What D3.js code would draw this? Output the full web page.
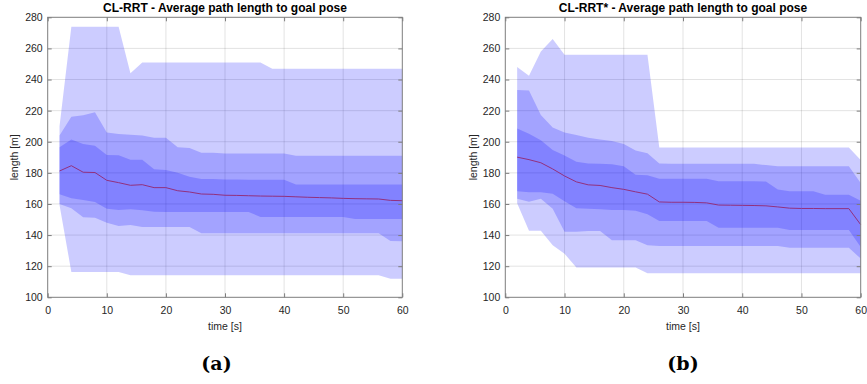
<!DOCTYPE html>
<html>
<head>
<meta charset="utf-8">
<script src="https://cdn.jsdelivr.net/npm/d3@7"></script>
<style>
  body { margin: 0; background: #fff; }
  text { font-family: "Liberation Sans", Arial, sans-serif; }
</style>
</head>
<body>
<div id="chart"></div>
<script>
const width = 867;
const height = 384;

// sample times (s)
const times = [2, 4, 6, 8, 10, 12, 14, 16, 18, 20, 22, 24, 26, 28, 30,
  32, 34, 36, 38, 40, 42, 44, 46, 48, 50, 52, 54, 56, 58, 60];
const xTicks = [0, 10, 20, 30, 40, 50, 60];
const yTicks = [100, 120, 140, 160, 180, 200, 220, 240, 260, 280];

// CL-RRT path length [m]
const rrtMax = [210, 274, 274, 274, 274, 274, 244, 251, 251, 251, 251, 251, 251, 251, 251,
  251, 251, 251, 247, 247, 247, 247, 247, 247, 247, 247, 247, 247, 247, 247];
const rrtHigh = [204, 216, 217, 219, 206, 205, 204.5, 204, 202.5, 202.5, 196.5, 196, 193, 193, 192.5,
  192.5, 192.5, 192.5, 192.5, 192.5, 191, 191, 191, 191, 191, 191, 191, 191, 191, 191];
const rrtUpper = [196.5, 201.5, 198.5, 197.5, 191.5, 191.3, 188.5, 188.5, 182.3, 181.8, 180, 177.5, 176, 176, 175.8,
  175.8, 175.6, 175.6, 175.6, 175.6, 172.5, 172.5, 172.5, 172.5, 172.5, 172.5, 172.5, 172.5, 172.5, 172.5];
const rrtMean = [181.2, 184.6, 180.4, 180.2, 175.2, 173.7, 172, 172.4, 170.5, 170.5, 168.5, 167.7, 166.4, 166.2, 165.6,
  165.5, 165.3, 165.1, 165, 164.9, 164.6, 164.3, 164.1, 163.9, 163.6, 163.4, 163.3, 163.2, 162.3, 162.1];
const rrtLower = [166.2, 163.6, 162.6, 161.3, 157, 156.1, 156.6, 155.9, 155, 154.8, 154.8, 154.8, 154.8, 154.8, 154.8,
  154.8, 154.8, 151.7, 151.7, 151.7, 151.7, 151.7, 151.7, 151.7, 151.7, 150.4, 150.4, 150.4, 150.4, 150.4];
const rrtLow = [160, 157.2, 151.4, 151.2, 148, 145.8, 146.5, 145.2, 145.2, 145.2, 145.2, 145.2, 141.1, 141.1, 141.1,
  141.1, 141.1, 141.1, 141.1, 141.1, 141.1, 141.1, 141.1, 141.1, 141.1, 141.1, 141.1, 141.1, 136.2, 136];
const rrtMin = [159.4, 116.3, 116.3, 116.3, 116.3, 116.3, 114.2, 114.2, 114.2, 114.2, 114.2, 114.2, 114.2, 114.2, 114.2,
  114.2, 114.2, 114.2, 114.2, 114.2, 114.2, 114.2, 114.2, 114.2, 114.2, 114.2, 114.2, 114.2, 112, 112];

// CL-RRT* path length [m]
const starMax = [248, 242.5, 258, 266, 256, 256, 256, 256, 256, 256, 256, 256, 196.3, 196.3, 196.3,
  196.3, 196.3, 196.3, 196.3, 196.3, 196.3, 196.3, 196.3, 196.3, 196.3, 196.3, 196.3, 196.3, 196.3, 188.3];
const starHigh = [233.2, 233, 217.2, 209.2, 206, 204.3, 202.5, 201.5, 200.4, 198.5, 194.3, 192.6, 186, 185.8, 185.8,
  185.8, 185.8, 185.8, 185.8, 185.8, 185.8, 185, 184.2, 184.2, 184.2, 184.2, 184.2, 184.2, 184.2, 173.4];
const starUpper = [208.5, 205.2, 201, 194.7, 191.1, 187.2, 186, 185.8, 185.5, 184.3, 178.8, 178.5, 176.2, 176.2, 176.2,
  176.2, 176.2, 174.6, 174.6, 174.6, 174.6, 174.4, 169.3, 168.2, 168.2, 168.1, 166, 166, 166, 162];
const starMean = [190.1, 188.5, 186.5, 182.5, 178, 174.2, 172.3, 171.9, 170.5, 169.4, 167.8, 166.3, 161.3, 161.1, 161.1,
  161, 160.7, 159.3, 159.2, 159.1, 159, 158.8, 158.1, 157.3, 157.1, 157.1, 157, 157, 157, 146.7];
const starLower = [168.2, 167.5, 167.5, 166.6, 161.8, 157.3, 157, 156.6, 156.2, 156.1, 155.7, 153.4, 149, 149, 149,
  149, 149, 144.7, 144.7, 144.7, 144.7, 144.7, 144.7, 143.3, 143.3, 143.3, 143.3, 143.3, 143.3, 132.3];
const starLow = [163.4, 161.4, 163.3, 156.9, 142.2, 142.2, 142.6, 142.6, 136.6, 136.6, 136.6, 133.5, 133, 133, 133,
  133, 133, 133, 133, 133, 133, 133, 133, 131.8, 131.8, 131.8, 131.8, 131.8, 131.8, 124.9];
const starMin = [160.5, 142.8, 142.8, 133.5, 128, 119.2, 119.2, 119.2, 119.2, 119.2, 119.2, 115.4, 115.4, 115.4, 115.4,
  115.4, 115.4, 115.4, 115.4, 115.4, 115.4, 115.4, 115.4, 115.4, 115.4, 115.4, 115.4, 115.4, 115.4, 115.4];

const panels = [
  {
    title: "CL-RRT - Average path length to goal pose",
    caption: "(a)",
    left: 47.7, right: 402.3, captionX: 216.5, ylabelX: 17.5,
    bands: [[rrtMin, rrtMax], [rrtLow, rrtHigh], [rrtLower, rrtUpper]],
    mean: rrtMean,
  },
  {
    title: "CL-RRT* - Average path length to goal pose",
    caption: "(b)",
    left: 505.3, right: 860.7, captionX: 683, ylabelX: 476.5,
    bands: [[starMin, starMax], [starLow, starHigh], [starLower, starUpper]],
    mean: starMean,
  },
];

const plotTop = 17.3;
const plotBottom = 297.3;
const frameColor = "#7d7d7d";
const textColor = "#262626";

const svg = d3
  .select("#chart")
  .append("svg")
  .attr("width", width)
  .attr("height", height);

const y = d3.scaleLinear().domain([100, 280]).range([plotBottom, plotTop]);

panels.forEach((p) => {
  const x = d3.scaleLinear().domain([0, 60]).range([p.left, p.right]);
  const g = svg.append("g");

  // grid
  g.append("g")
    .selectAll("line")
    .data(xTicks.slice(1, -1))
    .join("line")
    .attr("x1", (d) => x(d))
    .attr("x2", (d) => x(d))
    .attr("y1", plotTop)
    .attr("y2", plotBottom)
    .attr("stroke", "#262626")
    .attr("stroke-opacity", 0.13);
  g.append("g")
    .selectAll("line")
    .data(yTicks.slice(1, -1))
    .join("line")
    .attr("x1", p.left)
    .attr("x2", p.right)
    .attr("y1", (d) => y(d))
    .attr("y2", (d) => y(d))
    .attr("stroke", "#262626")
    .attr("stroke-opacity", 0.13);

  // shaded bands, each one blue at 0.2 alpha
  const area = d3
    .area()
    .x((d) => x(d.t))
    .y0((d) => y(d.lo))
    .y1((d) => y(d.hi));

  p.bands.forEach(([lo, hi]) => {
    const rows = times.map((t, i) => ({ t, lo: lo[i], hi: hi[i] }));
    g.append("path")
      .datum(rows)
      .attr("d", area)
      .attr("fill", "#0000ff")
      .attr("fill-opacity", 0.2);
  });

  // mean line
  const line = d3
    .line()
    .x((d) => x(d.t))
    .y((d) => y(d.v));
  g.append("path")
    .datum(times.map((t, i) => ({ t, v: p.mean[i] })))
    .attr("d", line)
    .attr("fill", "none")
    .attr("stroke", "#92307e")
    .attr("stroke-width", 1);

  // axes with inward ticks
  const axisStyle = (sel) => {
    sel.select(".domain").remove();
    sel.selectAll(".tick line").attr("stroke", frameColor);
    sel.selectAll(".tick text")
      .attr("fill", textColor)
      .style("font-size", "10.5px")
      .style("font-family", "'Liberation Sans', Arial, sans-serif");
  };

  g.append("g")
    .attr("transform", `translate(0,${plotBottom})`)
    .call(d3.axisBottom(x).tickValues(xTicks).tickSizeInner(-4).tickSizeOuter(0).tickPadding(9))
    .call(axisStyle);
  g.append("g")
    .attr("transform", `translate(0,${plotTop})`)
    .call(d3.axisTop(x).tickValues(xTicks).tickSizeInner(-4).tickSizeOuter(0).tickFormat(""))
    .call(axisStyle);
  g.append("g")
    .attr("transform", `translate(${p.left},0)`)
    .call(d3.axisLeft(y).tickValues(yTicks).tickSizeInner(-4).tickSizeOuter(0).tickPadding(5))
    .call(axisStyle);
  g.append("g")
    .attr("transform", `translate(${p.right},0)`)
    .call(d3.axisRight(y).tickValues(yTicks).tickSizeInner(-4).tickSizeOuter(0).tickFormat(""))
    .call(axisStyle);

  // box
  g.append("rect")
    .attr("x", p.left)
    .attr("y", plotTop)
    .attr("width", p.right - p.left)
    .attr("height", plotBottom - plotTop)
    .attr("fill", "none")
    .attr("stroke", frameColor)
    .attr("stroke-width", 1);

  const cx = (p.left + p.right) / 2;

  g.append("text")
    .attr("x", cx)
    .attr("y", 12)
    .attr("text-anchor", "middle")
    .attr("font-weight", "bold")
    .attr("font-size", "12px")
    .attr("fill", "#000")
    .text(p.title);

  g.append("text")
    .attr("x", cx)
    .attr("y", 329.5)
    .attr("text-anchor", "middle")
    .attr("font-size", "10.5px")
    .attr("fill", textColor)
    .text("time [s]");

  g.append("text")
    .attr("transform", `translate(${p.ylabelX},${(plotTop + plotBottom) / 2}) rotate(-90)`)
    .attr("text-anchor", "middle")
    .attr("font-size", "10.5px")
    .attr("fill", textColor)
    .text("length [m]");

  g.append("text")
    .attr("x", p.captionX)
    .attr("y", 370)
    .attr("text-anchor", "middle")
    .attr("font-weight", "bold")
    .attr("font-size", "19px")
    .style("font-family", "'DejaVu Serif', serif")
    .attr("fill", "#000")
    .text(p.caption);
});
</script>
</body>
</html>
